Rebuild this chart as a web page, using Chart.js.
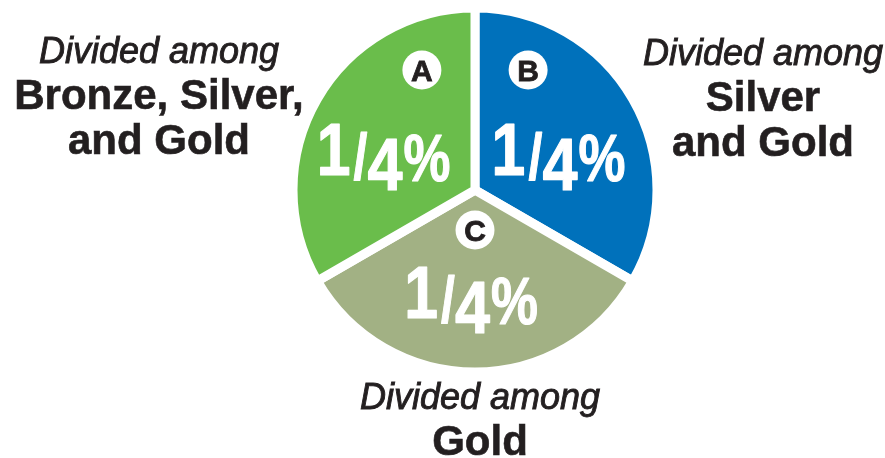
<!DOCTYPE html>
<html>
<head>
<meta charset="utf-8">
<script src="https://cdn.jsdelivr.net/npm/chart.js@4/dist/chart.umd.min.js"></script>
<style>
  html, body { margin: 0; padding: 0; background: #ffffff; }
  #wrap { width: 885px; height: 458px; position: relative; overflow: hidden; }
</style>
</head>
<body>
<div id="wrap"><canvas id="c" width="885" height="458"></canvas></div>
<script>
// ---- data ----
const categories = ['B', 'C', 'A'];
const shares = [1, 1, 1];
const shareLabels = ['1/4%', '1/4%', '1/4%'];
const introLines = ['Divided among', 'Divided among', 'Divided among'];
const groupLines = [['Silver', 'and Gold'], ['Gold'], ['Bronze, Silver,', 'and Gold']];

// ---- styles ----
const sliceColors = ['#0071bb', '#a2b184', '#6abd4b'];
const textDark = '#231f20';
const FONT = '"Liberation Sans", Arial, Helvetica, sans-serif';
const calloutAnchors = [
  { x: 763, y: 65 },
  { x: 480, y: 409 },
  { x: 159, y: 63 }
];

function drawGlyph(ctx, s, cx, base, size, sx) {
  ctx.save();
  ctx.translate(cx, base);
  ctx.scale(sx, 1);
  ctx.font = 'bold ' + size + 'px ' + FONT;
  ctx.textAlign = 'center';
  ctx.textBaseline = 'alphabetic';
  ctx.lineWidth = 1.2;
  ctx.lineJoin = 'round';
  ctx.strokeStyle = '#ffffff';
  ctx.strokeText(s, 0, 0);
  ctx.fillText(s, 0, 0);
  ctx.restore();
}

function drawShare(ctx, label, x, y) {
  const m = label.match(/^(\d+)\/(\d+)(.*)$/);
  ctx.fillStyle = '#ffffff';
  if (!m) { drawGlyph(ctx, label, x, y, 74, 0.84); return; }
  drawGlyph(ctx, m[1], x - 54, y - 15, 74, 0.82);
  drawGlyph(ctx, '/', x - 27, y - 11, 64, 0.78);
  drawGlyph(ctx, m[2], x - 2.5, y, 75, 0.84);
  if (m[3]) drawGlyph(ctx, m[3], x + 39.5, y - 9, 66, 0.8);
}

const sliceLabels = {
  id: 'sliceLabels',
  afterDatasetsDraw(chart) {
    const ctx = chart.ctx;
    const meta = chart.getDatasetMeta(0);
    meta.data.forEach((arc, i) => {
      const p = arc.getProps(['x', 'y', 'startAngle', 'endAngle', 'outerRadius'], true);
      const mid = (p.startAngle + p.endAngle) / 2;
      const R = p.outerRadius;
      const cs = Math.cos(mid), sn = Math.sin(mid);
      // value label
      const lx = p.x + 0.555 * R * cs;
      const ly = p.y + 0.524 * R * sn + 0.262 * R;
      drawShare(ctx, shareLabels[i], lx, ly);
      // letter badge
      const bx = p.x + 0.337 * R * cs;
      const by = p.y + 0.586 * R * sn - 0.366 * R;
      ctx.save();
      ctx.beginPath();
      ctx.arc(bx, by, 19.5, 0, Math.PI * 2);
      ctx.fillStyle = '#ffffff';
      ctx.fill();
      ctx.fillStyle = textDark;
      ctx.strokeStyle = textDark;
      ctx.lineWidth = 0.8;
      ctx.font = 'bold 30px ' + FONT;
      ctx.textAlign = 'center';
      ctx.textBaseline = 'alphabetic';
      ctx.strokeText(categories[i], bx, by + 10.5);
      ctx.fillText(categories[i], bx, by + 10.5);
      ctx.restore();
      // callout text
      const a = calloutAnchors[i];
      ctx.save();
      ctx.fillStyle = textDark;
      ctx.strokeStyle = textDark;
      ctx.textAlign = 'center';
      ctx.textBaseline = 'alphabetic';
      ctx.font = 'italic 36px ' + FONT;
      ctx.lineWidth = 0.9;
      ctx.strokeText(introLines[i], a.x, a.y);
      ctx.fillText(introLines[i], a.x, a.y);
      ctx.font = 'bold 42px ' + FONT;
      ctx.lineWidth = 0.6;
      groupLines[i].forEach((t, k) => {
        ctx.strokeText(t, a.x, a.y + 46 + k * 45);
        ctx.fillText(t, a.x, a.y + 46 + k * 45);
      });
      ctx.restore();
    });
  }
};

new Chart(document.getElementById('c'), {
  type: 'pie',
  data: {
    labels: categories,
    datasets: [{
      data: shares,
      backgroundColor: sliceColors,
      borderColor: '#ffffff',
      borderWidth: 9,
      hoverOffset: 0
    }]
  },
  options: {
    responsive: false,
    animation: false,
    events: [],
    radius: 182,
    rotation: 0,
    layout: { padding: { left: 65, right: 0, top: 0, bottom: 78 } },
    plugins: {
      legend: { display: false },
      tooltip: { enabled: false },
      title: { display: false }
    }
  },
  plugins: [sliceLabels]
});
</script>
</body>
</html>
